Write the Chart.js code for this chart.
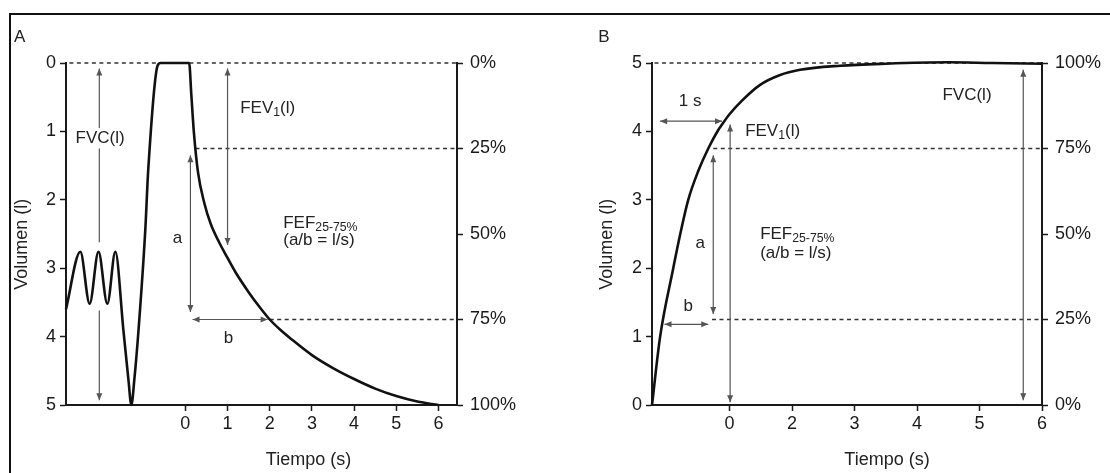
<!DOCTYPE html>
<html>
<head>
<meta charset="utf-8">
<title>Espirometría</title>
<script src="https://cdn.jsdelivr.net/npm/chart.js@4.4.0/dist/chart.umd.min.js"></script>
<style>
  html, body { margin: 0; padding: 0; background: #fff; }
  #page { position: relative; width: 1110px; height: 473px; overflow: hidden; }
  #frame { position: absolute; left: 9px; top: 13px; width: 1200px; height: 600px;
           border-top: 2px solid #111; border-left: 2px solid #111; }
  canvas { position: absolute; top: 0; }
  #chartA { left: 0; }
  #chartB { left: 555px; }
</style>
</head>
<body>
<div id="page">
  <div id="frame"></div>
  <canvas id="chartA" width="555" height="473"></canvas>
  <canvas id="chartB" width="555" height="473"></canvas>
</div>
<script>
// panel A - tidal breathing, full inspiration, forced expiration (volume counted downwards)
var timeA = [-2.83, -2.49, -2.27, -2.06, -1.85, -1.66, -1.47, -1.35, -1.28, -1.21, -1.11, -0.95, -0.88, -0.66, -0.59,
             0.09, 0.14, 0.2, 0.3, 0.45, 0.6, 0.8, 1.0, 1.2, 1.5, 1.75, 2.0, 2.25, 2.5, 3.0, 3.5, 4.0, 4.5, 5.0, 5.5, 6.0];
var volA  = [3.6, 2.76, 3.52, 2.76, 3.52, 2.76, 3.9, 4.63, 5.0, 4.63, 3.9, 2.44, 1.56, 0.04, 0,
             0, 0.45, 1.0, 1.6, 2.05, 2.35, 2.62, 2.85, 3.07, 3.35, 3.56, 3.75, 3.9, 4.03, 4.27, 4.46, 4.62, 4.76, 4.87, 4.95, 5.0];
var ticksA = [0, 1, 2, 3, 4, 5, 6];

// panel B - same manoeuvre shown as volume-time rising curve
var timeB = [-0.24, -0.11, 0.10, 0.2, 0.34, 0.5, 0.66, 0.82, 0.88, 1.0, 1.2, 1.49, 1.8, 2.13, 2.77, 3.5, 4.5, 5.2, 6.0];
var volB  = [0, 1.0, 2.0, 2.45, 3.0, 3.42, 3.75, 4.02, 4.1, 4.25, 4.45, 4.68, 4.82, 4.9, 4.96, 4.99, 5.01, 5.0, 4.99];
var ticksB = [1, 2, 3, 4, 5, 6];
var tickLabelsB = ["0", "2", "3", "4", "5", "6"];

var volTicks = [0, 1, 2, 3, 4, 5];
var pctTicks = [0, 25, 50, 75, 100];

var ink = "#1a1a1a";
var grey = "#555";
var family = "'Liberation Sans', Arial, Helvetica, sans-serif";

function pts(xs, ys) {
  return xs.map(function(x, i) { return { x: x, y: ys[i] }; });
}

function dashed(y, from, to) {
  return {
    data: [{ x: from, y: y }, { x: to, y: y }],
    borderColor: "#333", borderWidth: 1.4, borderDash: [4, 3.5],
    pointRadius: 0, clip: false
  };
}

// arrows and free text, placed in data units and converted through the scales
function notes(arrows, texts) {
  return {
    id: "notes",
    afterDatasetsDraw: function(chart) {
      var ctx = chart.ctx, xs = chart.scales.x, ys = chart.scales.y;
      ctx.save();
      ctx.strokeStyle = grey;
      ctx.fillStyle = grey;
      ctx.lineWidth = 1.2;
      arrows.forEach(function(a) {
        var x1 = xs.getPixelForValue(a.x1), y1 = ys.getPixelForValue(a.y1);
        var x2 = xs.getPixelForValue(a.x2), y2 = ys.getPixelForValue(a.y2);
        var ang = Math.atan2(y2 - y1, x2 - x1);
        var segs = [[0, 1]];
        if (a.gap) {
          var g1 = (a.gap[0] - a.y1) / (a.y2 - a.y1), g2 = (a.gap[1] - a.y1) / (a.y2 - a.y1);
          segs = [[0, g1], [g2, 1]];
        }
        segs.forEach(function(s) {
          ctx.beginPath();
          ctx.moveTo(x1 + (x2 - x1) * s[0], y1 + (y2 - y1) * s[0]);
          ctx.lineTo(x1 + (x2 - x1) * s[1], y1 + (y2 - y1) * s[1]);
          ctx.stroke();
        });
        head(ctx, x2, y2, ang);
        head(ctx, x1, y1, ang + Math.PI);
      });
      texts.forEach(function(t) {
        var size = t.size || 17;
        var parts = t.parts || [{ s: t.text }];
        var w = 0;
        parts.forEach(function(p) {
          ctx.font = (p.sub ? size * 0.72 : size) + "px " + family;
          p.w = ctx.measureText(p.s).width;
          w += p.w;
        });
        var px = xs.getPixelForValue(t.x), py = ys.getPixelForValue(t.y);
        ctx.save();
        ctx.translate(px, py);
        if (t.rot) ctx.rotate(t.rot * Math.PI / 180);
        var sx = t.align === "left" ? 0 : -w / 2;
        if (t.bg) {
          ctx.fillStyle = "#fff";
          ctx.fillRect(sx - 3, -size * 0.6, w + 6, size * 1.2);
        }
        ctx.fillStyle = "#222";
        ctx.textBaseline = "middle";
        ctx.textAlign = "left";
        parts.forEach(function(p) {
          ctx.font = (p.sub ? size * 0.72 : size) + "px " + family;
          ctx.fillText(p.s, sx, p.sub ? 4 : 0);
          sx += p.w;
        });
        ctx.restore();
      });
      ctx.restore();
    }
  };
}

function head(ctx, x, y, ang) {
  var L = 7, W = 3;
  ctx.beginPath();
  ctx.moveTo(x, y);
  ctx.lineTo(x - L * Math.cos(ang) + W * Math.sin(ang), y - L * Math.sin(ang) - W * Math.cos(ang));
  ctx.lineTo(x - L * Math.cos(ang) - W * Math.sin(ang), y - L * Math.sin(ang) + W * Math.cos(ang));
  ctx.closePath();
  ctx.fill();
}

function axisGrid() {
  return { drawOnChartArea: false, drawTicks: true, tickLength: 6, tickColor: ink, tickWidth: 1.5 };
}

function buildScales(o) {
  var font = { family: family, size: 18 };
  return {
    x: {
      type: "linear", min: o.xmin, max: o.xmax,
      afterBuildTicks: function(s) { s.ticks = o.xticks.map(function(v) { return { value: v }; }); },
      afterFit: function(s) { s.height = 68; },
      grid: axisGrid(),
      border: { color: ink, width: 2 },
      ticks: { color: ink, font: font, padding: 2, autoSkip: false, maxRotation: 0,
               callback: function(v, i) { return o.xlabels ? o.xlabels[i] : String(v); } }
    },
    y: {
      position: "left", min: 0, max: 5, reverse: o.reverse,
      afterBuildTicks: function(s) { s.ticks = volTicks.map(function(v) { return { value: v }; }); },
      afterFit: function(s) { s.width = o.leftW; },
      grid: axisGrid(),
      border: { color: ink, width: 2 },
      ticks: { color: ink, font: font, padding: 4 }
    },
    y2: {
      position: "right", min: 0, max: 100, reverse: o.reverse,
      afterBuildTicks: function(s) { s.ticks = pctTicks.map(function(v) { return { value: v }; }); },
      afterFit: function(s) { s.width = o.rightW; },
      grid: axisGrid(),
      border: { color: ink, width: 2 },
      ticks: { color: ink, font: font, padding: 7, callback: function(v) { return v + "%"; } }
    }
  };
}

function baseOptions(scales) {
  return {
    responsive: false, animation: false, devicePixelRatio: 1,
    layout: { padding: { top: 63, left: 0, right: 0, bottom: 0 } },
    plugins: { legend: { display: false }, tooltip: { enabled: false } },
    scales: scales
  };
}

var fev = [{ s: "FEV" }, { s: "1", sub: true }, { s: "(l)" }];
var fef = [{ s: "FEF" }, { s: "25-75%", sub: true }];

new Chart(document.getElementById("chartA"), {
  type: "line",
  data: {
    datasets: [
      { data: pts(timeA, volA), borderColor: "#111", borderWidth: 2.6, pointRadius: 0,
        cubicInterpolationMode: "monotone", clip: false },
      dashed(0, -2.75, 6.44),
      dashed(1.25, 0.24, 6.44),
      dashed(3.75, 2.0, 6.44)
    ]
  },
  options: baseOptions(buildScales({ xmin: -2.83, xmax: 6.44, xticks: ticksA, reverse: true, leftW: 66, rightW: 98 })),
  plugins: [notes(
    [
      { x1: -2.04, y1: 0.08, x2: -2.04, y2: 4.93, gap: [2.62, 3.62] },
      { x1: 1.0, y1: 0.08, x2: 1.0, y2: 2.66 },
      { x1: 0.12, y1: 1.35, x2: 0.12, y2: 3.64 },
      { x1: 0.17, y1: 3.75, x2: 1.95, y2: 3.75 }
    ],
    [
      { text: "A", x: -4.06, y: -0.37, align: "left" },
      { text: "Volumen (l)", x: -3.87, y: 2.65, rot: -90, size: 18 },
      { text: "Tiempo (s)", x: 2.92, y: 5.80, size: 18 },
      { text: "FVC(l)", x: -2.02, y: 1.10, bg: true },
      { parts: fev, x: 1.30, y: 0.66, align: "left" },
      { parts: fef, x: 2.32, y: 2.35, align: "left" },
      { text: "(a/b = l/s)", x: 2.32, y: 2.59, align: "left" },
      { text: "a", x: -0.19, y: 2.56 },
      { text: "b", x: 1.02, y: 4.02 }
    ]
  )]
});

new Chart(document.getElementById("chartB"), {
  type: "line",
  data: {
    datasets: [
      { data: pts(timeB, volB), borderColor: "#111", borderWidth: 2.6, pointRadius: 0,
        cubicInterpolationMode: "monotone", clip: false },
      dashed(5, -0.2, 6),
      dashed(3.75, 0.74, 6),
      dashed(1.25, 0.72, 6)
    ]
  },
  options: baseOptions(buildScales({ xmin: -0.24, xmax: 6, xticks: ticksB, xlabels: tickLabelsB, reverse: false, leftW: 97, rightW: 68 })),
  plugins: [notes(
    [
      { x1: -0.11, y1: 4.15, x2: 0.88, y2: 4.15 },
      { x1: 1.01, y1: 4.1, x2: 1.01, y2: 0.04 },
      { x1: 0.74, y1: 3.65, x2: 0.74, y2: 1.33 },
      { x1: -0.04, y1: 1.18, x2: 0.66, y2: 1.18 },
      { x1: 5.70, y1: 4.9, x2: 5.70, y2: 0.07 }
    ],
    [
      { text: "B", x: -1.10, y: 5.38, align: "left" },
      { text: "Volumen (l)", x: -0.96, y: 2.35, rot: -90, size: 18 },
      { text: "Tiempo (s)", x: 3.52, y: -0.80, size: 18 },
      { text: "1 s", x: 0.37, y: 4.44 },
      { parts: fev, x: 1.25, y: 4.0, align: "left" },
      { parts: fef, x: 1.49, y: 2.49, align: "left" },
      { text: "(a/b = l/s)", x: 1.49, y: 2.22, align: "left" },
      { text: "a", x: 0.53, y: 2.37 },
      { text: "b", x: 0.34, y: 1.45 },
      { text: "FVC(l)", x: 4.8, y: 4.53 }
    ]
  )]
});
</script>
</body>
</html>
